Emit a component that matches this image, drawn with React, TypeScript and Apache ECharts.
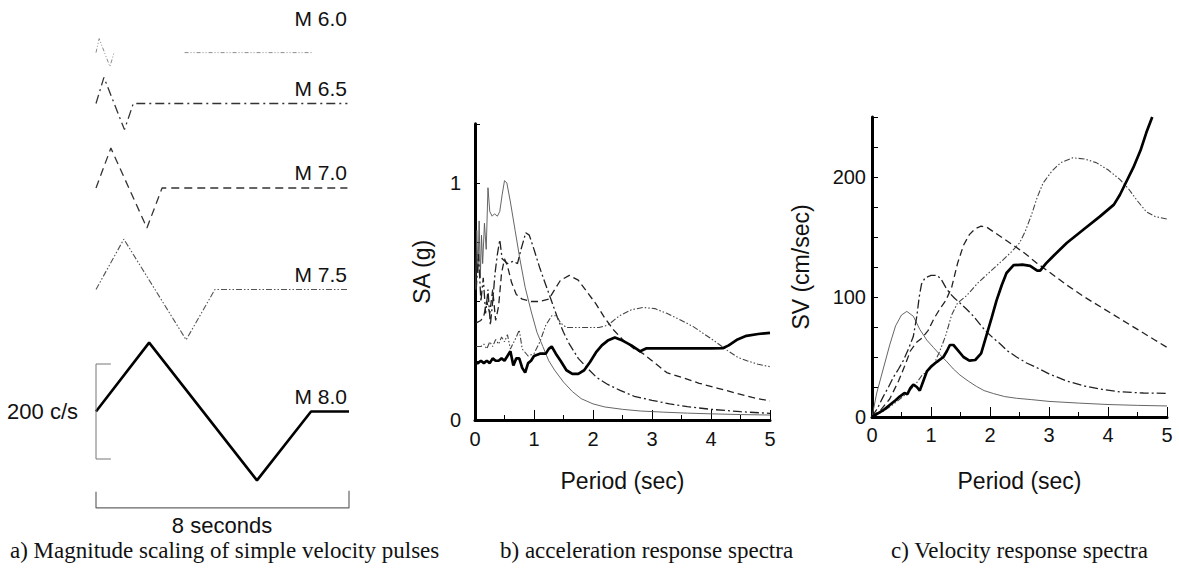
import React, { useEffect, useRef } from "react";
import * as echarts from "echarts";

// ---------- data ----------
const MAGNITUDES = ["M 6.0", "M 6.5", "M 7.0", "M 7.5", "M 8.0"];

// a) simple velocity pulses: [time (s), velocity (cm/s)]; "-" breaks the line
const PULSE_M60: [number, number | string][] = [[0, 0], [0.1, 40], [0.44, -40], [0.57, 0], [1.6, "-"], [2.8, 0], [6.87, 0]];
const PULSE_M65: [number, number | string][] = [[0, 0], [0.25, 55], [0.9, -55], [1.18, 0], [7.95, 0]];
const PULSE_M70: [number, number | string][] = [[0, 0], [0.47, 84], [1.61, -84], [2.09, 0], [7.95, 0]];
const PULSE_M75: [number, number | string][] = [[0, 0], [0.88, 106], [2.85, -106], [3.76, 0], [8, 0]];
const PULSE_M80: [number, number | string][] = [[0, 0], [1.68, 145], [5.09, -145], [6.8, 0], [8, 0]];
const PULSES = [PULSE_M60, PULSE_M65, PULSE_M70, PULSE_M75, PULSE_M80];

const SCALE_VELOCITY = 200; // c/s
const SCALE_DURATION = 8; // seconds

// b) acceleration response spectra: [period (s), SA (g)]
const SA_M60 = [[0.01, 0.55], [0.03, 0.8], [0.05, 0.62], [0.07, 0.84], [0.09, 0.6], [0.11, 0.78], [0.13, 0.66], [0.16, 0.83], [0.19, 0.72], [0.22, 0.98], [0.25, 0.88], [0.29, 0.86], [0.33, 0.87], [0.38, 0.86], [0.42, 0.88], [0.46, 0.95], [0.5, 1.01], [0.54, 1.0], [0.6, 0.92], [0.68, 0.8], [0.76, 0.68], [0.85, 0.56], [0.95, 0.46], [1.05, 0.37], [1.15, 0.31], [1.25, 0.25], [1.35, 0.21], [1.5, 0.16], [1.65, 0.12], [1.8, 0.09], [2.0, 0.068], [2.2, 0.055], [2.5, 0.045], [2.8, 0.038], [3.2, 0.033], [3.6, 0.029], [4.0, 0.026], [4.5, 0.023], [5.0, 0.021]];
const SA_M65 = [[0.02, 0.55], [0.06, 0.7], [0.1, 0.5], [0.14, 0.6], [0.18, 0.45], [0.22, 0.55], [0.26, 0.4], [0.3, 0.5], [0.34, 0.62], [0.38, 0.7], [0.42, 0.76], [0.46, 0.68], [0.55, 0.66], [0.65, 0.67], [0.72, 0.66], [0.78, 0.72], [0.86, 0.79], [0.92, 0.78], [1.0, 0.72], [1.1, 0.64], [1.2, 0.57], [1.3, 0.5], [1.4, 0.43], [1.5, 0.37], [1.6, 0.32], [1.75, 0.26], [1.9, 0.22], [2.06, 0.18], [2.25, 0.15], [2.46, 0.125], [2.7, 0.1], [3.0, 0.083], [3.3, 0.068], [3.6, 0.056], [4.0, 0.045], [4.5, 0.035], [5.0, 0.028]];
const SA_M70 = [[0.02, 0.41], [0.1, 0.42], [0.15, 0.44], [0.2, 0.5], [0.25, 0.45], [0.3, 0.55], [0.35, 0.42], [0.4, 0.48], [0.45, 0.62], [0.5, 0.68], [0.55, 0.65], [0.62, 0.58], [0.7, 0.53], [0.8, 0.51], [0.95, 0.5], [1.1, 0.5], [1.25, 0.51], [1.35, 0.55], [1.45, 0.59], [1.6, 0.61], [1.75, 0.59], [1.9, 0.54], [2.05, 0.49], [2.2, 0.43], [2.35, 0.38], [2.5, 0.34], [2.7, 0.3], [2.85, 0.28], [3.0, 0.25], [3.25, 0.2], [3.5, 0.18], [3.8, 0.155], [4.1, 0.135], [4.4, 0.115], [4.7, 0.095], [5.0, 0.08]];
const SA_M75 = [[0.02, 0.31], [0.1, 0.31], [0.15, 0.32], [0.2, 0.3], [0.25, 0.33], [0.3, 0.31], [0.35, 0.34], [0.4, 0.32], [0.45, 0.35], [0.5, 0.33], [0.55, 0.36], [0.6, 0.3], [0.7, 0.35], [0.75, 0.38], [0.8, 0.3], [0.9, 0.27], [1.0, 0.28], [1.1, 0.33], [1.2, 0.4], [1.3, 0.44], [1.38, 0.44], [1.45, 0.41], [1.55, 0.39], [1.8, 0.39], [2.1, 0.39], [2.25, 0.4], [2.45, 0.44], [2.65, 0.465], [2.85, 0.475], [3.05, 0.47], [3.25, 0.45], [3.5, 0.42], [3.7, 0.394], [3.9, 0.36], [4.05, 0.335], [4.27, 0.295], [4.45, 0.265], [4.61, 0.25], [4.8, 0.235], [5.0, 0.225]];
const SA_M80 = [[0.02, 0.24], [0.05, 0.24], [0.1, 0.25], [0.15, 0.24], [0.2, 0.25], [0.25, 0.24], [0.3, 0.26], [0.35, 0.25], [0.4, 0.25], [0.45, 0.26], [0.5, 0.25], [0.55, 0.27], [0.6, 0.29], [0.65, 0.23], [0.7, 0.26], [0.75, 0.26], [0.8, 0.22], [0.85, 0.2], [0.9, 0.24], [0.95, 0.25], [1.0, 0.27], [1.1, 0.28], [1.2, 0.28], [1.25, 0.3], [1.3, 0.31], [1.37, 0.28], [1.45, 0.25], [1.55, 0.21], [1.65, 0.195], [1.75, 0.195], [1.85, 0.21], [1.95, 0.245], [2.05, 0.285], [2.15, 0.315], [2.25, 0.335], [2.37, 0.348], [2.5, 0.335], [2.65, 0.315], [2.8, 0.29], [2.9, 0.302], [3.5, 0.302], [4.0, 0.302], [4.2, 0.303], [4.3, 0.315], [4.45, 0.34], [4.6, 0.355], [4.8, 0.363], [5.0, 0.368]];
const SA_SERIES = [SA_M60, SA_M65, SA_M70, SA_M75, SA_M80];

// c) velocity response spectra: [period (s), SV (cm/s)]
const SV_M60 = [[0, 0], [0.08, 20], [0.19, 40], [0.3, 60], [0.4, 76], [0.5, 85], [0.59, 88], [0.7, 84], [0.81, 73], [0.93, 64], [1.04, 58], [1.15, 52], [1.27, 46], [1.38, 40], [1.49, 35], [1.63, 30], [1.77, 25.5], [1.9, 22], [2.06, 19.5], [2.25, 17], [2.45, 15.6], [2.7, 14.5], [3.0, 13], [3.5, 11.6], [4.0, 10.4], [4.5, 9.7], [5.0, 9.2]];
const SV_M65 = [[0, 0], [0.1, 8], [0.19, 17], [0.28, 25], [0.36, 33], [0.45, 40], [0.53, 47], [0.62, 57], [0.7, 67], [0.76, 84], [0.8, 100], [0.84, 111], [0.9, 116], [1.0, 118], [1.1, 118], [1.17, 115], [1.25, 108], [1.32, 103], [1.4, 99], [1.49, 95], [1.6, 90], [1.72, 84], [1.85, 76], [1.94, 71], [2.05, 66], [2.17, 61], [2.3, 55], [2.45, 50], [2.62, 45], [2.8, 41], [3.0, 36], [3.3, 30], [3.58, 26], [3.9, 23], [4.2, 21], [4.6, 20], [5.0, 19.7]];
const SV_M70 = [[0, 0], [0.15, 6], [0.3, 15], [0.45, 30], [0.55, 42], [0.65, 55], [0.75, 62], [0.85, 66], [0.95, 72], [1.05, 82], [1.15, 90], [1.25, 97], [1.35, 108], [1.45, 128], [1.55, 143], [1.65, 152], [1.75, 157], [1.85, 159], [1.95, 158], [2.1, 153], [2.25, 148], [2.4, 143], [2.6, 136], [2.8, 128], [3.0, 121], [3.3, 110], [3.6, 100], [3.9, 91], [4.2, 82], [4.5, 73], [4.8, 64], [5.0, 58]];
const SV_M75 = [[0, 0], [0.2, 5], [0.4, 12], [0.6, 20], [0.75, 28], [0.85, 35], [0.95, 38], [1.05, 44], [1.15, 55], [1.25, 68], [1.35, 85], [1.45, 95], [1.6, 101], [1.8, 112], [2.0, 121], [2.2, 130], [2.35, 137], [2.5, 145], [2.6, 155], [2.7, 168], [2.8, 183], [2.9, 195], [3.05, 205], [3.2, 212], [3.4, 216], [3.6, 215], [3.8, 212], [4.0, 206], [4.2, 198], [4.35, 190], [4.5, 180], [4.65, 171], [4.8, 167], [5.0, 165]];
const SV_M80 = [[0, 0], [0.1, 3], [0.2, 6], [0.3, 10], [0.4, 14], [0.47, 17], [0.55, 20], [0.6, 19], [0.65, 24], [0.7, 27], [0.76, 25], [0.81, 22], [0.87, 30], [0.93, 38], [1.0, 42], [1.1, 46], [1.21, 50], [1.27, 55], [1.32, 60], [1.38, 60], [1.45, 56], [1.55, 50], [1.65, 47], [1.75, 47.5], [1.85, 53], [1.94, 68], [2.03, 83], [2.11, 97], [2.2, 110], [2.28, 120], [2.4, 126.5], [2.55, 127], [2.68, 126], [2.8, 122], [2.85, 122], [2.95, 128], [3.07, 134], [3.3, 145], [3.58, 156], [3.86, 167], [4.1, 177], [4.2, 185], [4.3, 195], [4.43, 208], [4.55, 222], [4.65, 237], [4.75, 250]];
const SV_SERIES = [SV_M60, SV_M65, SV_M70, SV_M75, SV_M80];

// axis tick labels
const PERIOD_LABELS = [0, 1, 2, 3, 4, 5];
const SA_LABELS = [0, 1];
const SV_LABELS = [0, 100, 200];

const CAPTIONS = [
  "a) Magnitude scaling of simple velocity pulses",
  "b) acceleration response spectra",
  "c) Velocity response spectra",
];

// ---------- styling / layout ----------
const SANS = "'Liberation Sans', Arial, Helvetica, sans-serif";
const SERIF = "'Liberation Serif', 'Times New Roman', serif";
const INK = "#111";

const PULSE_STYLE = [
  { color: "#8c8c8c", width: 1, type: [4, 2, 1, 2, 1, 2] },
  { color: "#333", width: 1.3, type: [9, 4, 2, 4] },
  { color: "#333", width: 1.3, type: [8, 5] },
  { color: "#555", width: 1.1, type: [6, 2, 1.5, 2, 1.5, 2] },
  { color: "#000", width: 2.6, type: "solid" },
];
const SPECTRA_STYLE = [
  { color: "#555", width: 0.9, type: "solid" },
  { color: "#222", width: 1.3, type: [9, 3, 2, 3] },
  { color: "#222", width: 1.3, type: [7, 4] },
  { color: "#444", width: 1.1, type: [6, 2, 1.5, 2, 1.5, 2] },
  { color: "#000", width: 2.7, type: "solid" },
];

const PULSE_LEFT = 96;
const PULSE_WIDTH = 253;
const PX_PER_CMS = 0.475;
const PULSE_BASELINE_PX = [34, 103.5, 188, 289.5, 411.5];
const PULSE_VRANGE: [number, number][] = [[-150, 150], [-150, 150], [-150, 150], [-150, 150], [-215, 155]];

function buildOption() {
  const grid: any[] = [];
  const xAxis: any[] = [];
  const yAxis: any[] = [];
  const series: any[] = [];
  const graphics: any[] = [];

  // panel a: one small grid per pulse, same scales
  PULSES.forEach((pulse, i) => {
    const [vmin, vmax] = PULSE_VRANGE[i];
    grid.push({
      left: PULSE_LEFT,
      width: PULSE_WIDTH,
      top: PULSE_BASELINE_PX[i] - vmax * PX_PER_CMS,
      height: (vmax - vmin) * PX_PER_CMS,
    });
    xAxis.push({ gridIndex: i, type: "value", min: 0, max: SCALE_DURATION, show: false });
    yAxis.push({ gridIndex: i, type: "value", min: vmin, max: vmax, show: false });
    series.push({
      type: "line",
      name: MAGNITUDES[i],
      xAxisIndex: i,
      yAxisIndex: i,
      data: pulse,
      showSymbol: false,
      connectNulls: false,
      clip: false,
      lineStyle: PULSE_STYLE[i],
    });
    graphics.push({
      type: "text",
      x: 347,
      y: PULSE_BASELINE_PX[i] - 15.5,
      style: { text: MAGNITUDES[i], fontSize: 21, fontFamily: SANS, fill: INK, align: "right", verticalAlign: "middle" },
    });
  });

  // scale brackets in the M 8.0 grid
  const last = PULSES.length - 1;
  const half = SCALE_VELOCITY / 2;
  series.push({
    type: "line",
    xAxisIndex: last,
    yAxisIndex: last,
    data: [[0.47, half], [0, half], [0, -half], [0.47, -half]],
    showSymbol: false,
    clip: false,
    lineStyle: { color: "#777", width: 1 },
  });
  series.push({
    type: "line",
    xAxisIndex: last,
    yAxisIndex: last,
    data: [[0, -169], [0, -203], [SCALE_DURATION, -203], [SCALE_DURATION, -167]],
    showSymbol: false,
    clip: false,
    lineStyle: { color: "#666", width: 1.2 },
  });
  graphics.push({
    type: "text",
    x: 78,
    y: 411,
    style: { text: `${SCALE_VELOCITY} c/s`, fontSize: 22, fontFamily: SANS, fill: INK, align: "right", verticalAlign: "middle" },
  });
  graphics.push({
    type: "text",
    x: 222,
    y: 525,
    style: { text: `${SCALE_DURATION} seconds`, fontSize: 22, fontFamily: SANS, fill: INK, align: "center", verticalAlign: "middle" },
  });

  const axisLine = { show: true, lineStyle: { color: "#000", width: 3 } };
  const tickStyle = { color: "#000", width: 1 };
  const labelBase = { fontSize: 20, fontFamily: SANS, color: INK };

  // panel b
  const bIdx = PULSES.length;
  grid.push({ left: 475, top: 123.75, width: 295, height: 296.25 });
  xAxis.push({
    gridIndex: bIdx, type: "value", min: 0, max: 5, interval: 1,
    name: "Period (sec)", nameLocation: "middle", nameGap: 49,
    nameTextStyle: { fontSize: 23, fontFamily: SANS, color: INK },
    axisLine, axisTick: { inside: true, length: 10, lineStyle: tickStyle },
    minorTick: { show: true, splitNumber: 2, length: 5, lineStyle: tickStyle },
    axisLabel: { ...labelBase, margin: 9, formatter: (v: number) => (PERIOD_LABELS.includes(v) ? String(v) : "") },
    splitLine: { show: false },
  });
  yAxis.push({
    gridIndex: bIdx, type: "value", min: 0, max: 1.25, interval: 0.25,
    name: "SA (g)", nameLocation: "middle", nameGap: 42,
    nameTextStyle: { fontSize: 23, fontFamily: SANS, color: INK },
    axisLine, axisTick: { inside: true, length: 5, lineStyle: tickStyle },
    axisLabel: { ...labelBase, margin: 14, formatter: (v: number) => (SA_LABELS.includes(v) ? String(v) : "") },
    splitLine: { show: false },
  });
  SA_SERIES.forEach((d, i) => {
    series.push({
      type: "line", name: MAGNITUDES[i], xAxisIndex: bIdx, yAxisIndex: bIdx, data: d,
      showSymbol: false, lineStyle: SPECTRA_STYLE[i], z: i === 4 ? 3 : 2,
    });
  });

  // panel c
  const cIdx = bIdx + 1;
  grid.push({ left: 872, top: 117, width: 295, height: 300 });
  xAxis.push({
    gridIndex: cIdx, type: "value", min: 0, max: 5, interval: 1,
    name: "Period (sec)", nameLocation: "middle", nameGap: 52,
    nameTextStyle: { fontSize: 23, fontFamily: SANS, color: INK },
    axisLine, axisTick: { inside: true, length: 10, lineStyle: tickStyle },
    minorTick: { show: true, splitNumber: 2, length: 5, lineStyle: tickStyle },
    axisLabel: { ...labelBase, margin: 8, formatter: (v: number) => (PERIOD_LABELS.includes(v) ? String(v) : "") },
    splitLine: { show: false },
  });
  yAxis.push({
    gridIndex: cIdx, type: "value", min: 0, max: 250, interval: 25,
    name: "SV (cm/sec)", nameLocation: "middle", nameGap: 60,
    nameTextStyle: { fontSize: 23, fontFamily: SANS, color: INK },
    axisLine, axisTick: { inside: true, length: 6, lineStyle: tickStyle },
    axisLabel: { ...labelBase, margin: 6, formatter: (v: number) => (SV_LABELS.includes(v) ? String(v) : "") },
    splitLine: { show: false },
  });
  SV_SERIES.forEach((d, i) => {
    series.push({
      type: "line", name: MAGNITUDES[i], xAxisIndex: cIdx, yAxisIndex: cIdx, data: d,
      showSymbol: false, lineStyle: SPECTRA_STYLE[i], z: i === 4 ? 3 : 2,
    });
  });

  // captions
  const captionX = [10, 500, 891];
  CAPTIONS.forEach((c, i) => {
    graphics.push({
      type: "text",
      x: captionX[i],
      y: 550,
      style: { text: c, fontSize: 23, fontFamily: SERIF, fill: INK, align: "left", verticalAlign: "middle" },
    });
  });

  return {
    animation: false,
    backgroundColor: "#fff",
    grid,
    xAxis,
    yAxis,
    series,
    graphic: { elements: graphics },
  };
}

export default function App() {
  const ref = useRef<HTMLDivElement>(null);
  useEffect(() => {
    if (!ref.current) return;
    const chart = echarts.init(ref.current, null, { renderer: "svg" });
    chart.setOption(buildOption() as any);
    return () => chart.dispose();
  }, []);
  return (
    <div
      ref={ref}
      style={{ position: "absolute", left: 0, top: 0, width: 1179, height: 577, background: "#fff" }}
    />
  );
}
